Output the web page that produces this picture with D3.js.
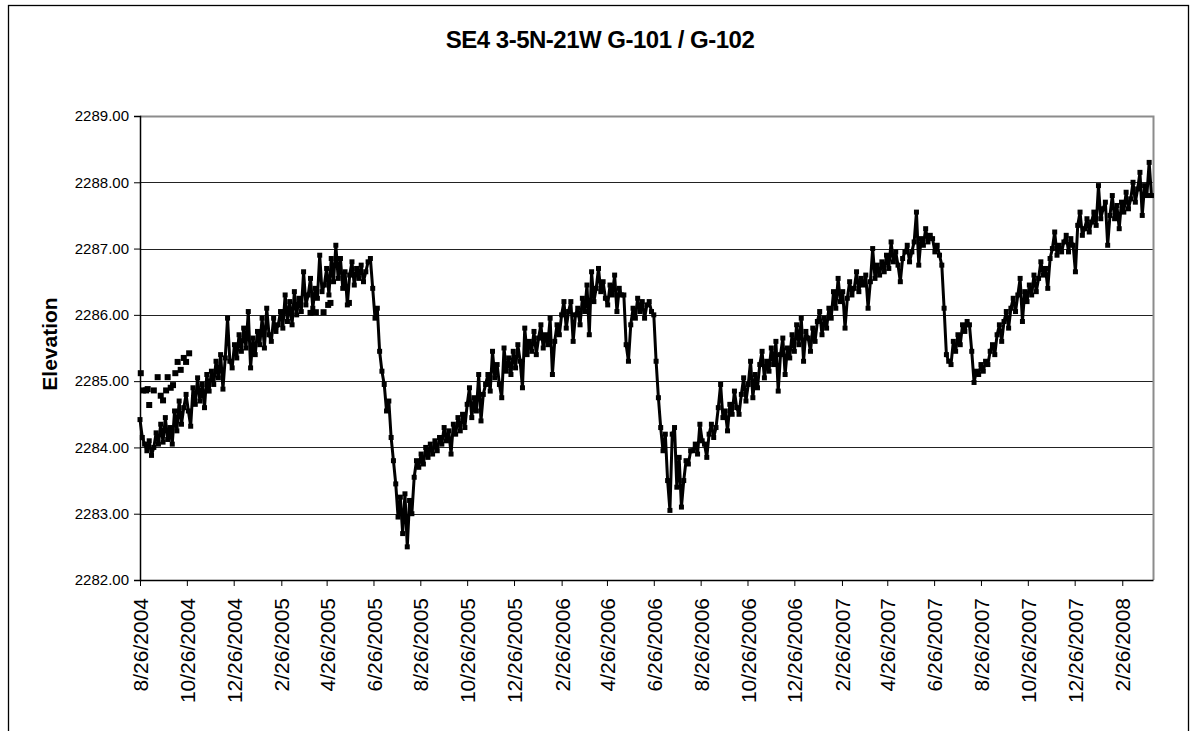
<!DOCTYPE html>
<html><head><meta charset="utf-8">
<script src="https://cdn.jsdelivr.net/npm/d3@7"></script>
<style>body{margin:0;background:#fff} text{font-family:"Liberation Sans",Arial,Helvetica,sans-serif}</style>
</head><body><svg id="c" width="1195" height="731"></svg>
<script>
const chartTitle = "SE4 3-5N-21W G-101 / G-102";
const yTitle = "Elevation";
const startDate = "2004-08-26";
const stepDays = 3;
const endDate = "2008-04-06";
const g101 = [
2284.42,2284.15,2284.05,2283.95,2284.10,2283.88,2284.00,2284.22,2284.05,2284.35,
2284.08,2284.45,2284.12,2284.30,2284.05,2284.55,2284.25,2284.70,2284.35,2284.60,
2284.80,2284.55,2284.32,2284.90,2284.65,2285.05,2284.70,2284.95,2284.60,2285.10,
2284.85,2285.15,2284.95,2285.30,2285.05,2285.40,2284.88,2285.35,2285.95,2285.30,
2285.20,2285.55,2285.35,2285.70,2285.45,2285.80,2285.50,2286.05,2285.20,2285.65,
2285.40,2285.75,2285.55,2285.95,2285.50,2286.10,2285.70,2285.60,2285.95,2285.75,
2285.85,2286.05,2285.80,2286.30,2285.90,2286.20,2285.85,2286.35,2286.00,2286.25,
2286.05,2286.65,2286.15,2286.30,2286.55,2286.10,2286.40,2286.25,2286.90,2286.35,
2286.45,2286.70,2286.30,2286.85,2286.50,2287.05,2286.55,2286.85,2286.40,2286.65,
2286.15,2286.60,2286.80,2286.45,2286.70,2286.55,2286.75,2286.50,2286.65,2286.80,
2286.85,2286.40,2285.95,2286.10,2285.45,2285.15,2284.95,2284.55,2284.70,2284.15,
2283.80,2283.45,2282.95,2283.25,2282.70,2283.30,2282.50,2283.20,2283.00,2283.55,
2283.80,2283.70,2283.90,2283.75,2284.00,2283.85,2284.05,2283.90,2284.10,2283.95,
2284.15,2284.05,2284.30,2284.10,2284.25,2283.90,2284.35,2284.20,2284.45,2284.25,
2284.50,2284.30,2284.65,2284.90,2284.45,2284.75,2284.55,2285.10,2284.40,2284.80,
2284.95,2285.10,2284.85,2285.45,2285.05,2285.25,2284.95,2284.75,2285.50,2285.15,
2285.35,2285.10,2285.45,2285.20,2285.55,2285.30,2284.90,2285.80,2285.40,2285.60,
2285.45,2285.75,2285.40,2285.65,2285.85,2285.50,2285.70,2285.55,2285.95,2285.10,
2285.60,2285.85,2285.70,2286.00,2286.20,2285.80,2286.05,2286.20,2285.60,2286.00,
2286.10,2285.85,2286.25,2286.05,2286.45,2285.70,2286.65,2286.20,2286.40,2286.70,
2286.35,2286.50,2286.25,2286.15,2286.45,2286.30,2286.60,2286.05,2286.40,2286.30,
2286.30,2285.55,2285.30,2285.85,2286.10,2285.95,2286.25,2286.05,2286.20,2285.95,
2286.15,2286.20,2286.05,2286.00,2285.30,2284.75,2284.30,2283.95,2284.20,2283.50,
2283.05,2284.20,2284.30,2283.40,2283.85,2283.10,2283.50,2283.80,2283.75,2283.95,
2283.95,2284.05,2283.90,2284.35,2284.10,2284.05,2283.85,2284.20,2284.35,2284.15,
2284.30,2284.60,2284.95,2284.45,2284.55,2284.25,2284.65,2284.50,2284.85,2284.60,
2284.50,2284.80,2285.05,2284.70,2284.95,2285.30,2284.75,2285.10,2284.90,2285.25,
2285.45,2285.05,2285.30,2285.15,2285.50,2285.25,2285.60,2284.85,2285.40,2285.65,
2285.10,2285.50,2285.35,2285.70,2285.45,2285.85,2285.55,2285.95,2285.30,2285.75,
2285.65,2285.45,2285.80,2285.60,2285.90,2286.05,2285.70,2285.95,2285.80,2286.10,
2285.95,2286.35,2286.10,2286.55,2286.20,2286.35,2285.80,2286.25,2286.50,2286.30,
2286.40,2286.65,2286.35,2286.55,2286.45,2286.60,2286.10,2286.50,2287.00,2286.55,
2286.75,2286.60,2286.80,2286.65,2286.90,2286.70,2287.10,2286.80,2286.95,2286.75,
2286.50,2286.85,2286.95,2287.05,2286.80,2286.95,2287.10,2287.55,2286.75,2287.15,
2287.05,2287.30,2287.10,2287.20,2287.15,2286.95,2287.05,2286.90,2286.75,2286.10,
2285.40,2285.30,2285.25,2285.60,2285.45,2285.70,2285.55,2285.85,2285.75,2285.90,
2285.85,2285.45,2284.98,2285.15,2285.10,2285.25,2285.15,2285.30,2285.25,2285.45,
2285.55,2285.40,2285.70,2285.85,2285.60,2285.90,2286.05,2285.80,2286.10,2286.25,
2286.05,2286.30,2286.55,2285.90,2286.35,2286.20,2286.45,2286.30,2286.60,2286.35,
2286.55,2286.80,2286.60,2286.70,2286.40,2286.85,2287.00,2287.25,2286.90,2287.05,
2286.95,2287.10,2287.20,2286.95,2287.15,2287.05,2286.65,2287.35,2287.55,2287.20,
2287.30,2287.45,2287.25,2287.40,2287.55,2287.35,2287.95,2287.45,2287.60,2287.70,
2287.05,2287.50,2287.80,2287.45,2287.65,2287.30,2287.70,2287.55,2287.85,2287.60,
2287.75,2288.00,2287.70,2287.90,2288.15,2287.50,2287.95,2287.80,2288.30,2287.80
];
const g102Dates = ["2004-08-27","2004-08-30","2004-09-03","2004-09-05","2004-09-07","2004-09-13","2004-09-18","2004-09-22","2004-09-25","2004-09-29","2004-10-01","2004-10-05","2004-10-08","2004-10-11","2004-10-14","2004-10-18","2004-10-22","2004-10-25","2004-10-29","2005-04-05","2005-04-12","2005-04-22","2005-04-28","2005-05-01","2005-05-25"];
const g102 = [2285.12,2284.86,2284.86,2284.88,2284.64,2284.86,2285.06,2284.78,2284.71,2284.86,2285.06,2284.90,2284.94,2285.12,2285.29,2285.17,2285.35,2285.29,2285.42,2286.03,2286.04,2286.04,2286.15,2286.18,2286.18];
const yTicks = [2282,2283,2284,2285,2286,2287,2288,2289];
const xTickLabels = ["8/26/2004","10/26/2004","12/26/2004","2/26/2005","4/26/2005","6/26/2005","8/26/2005","10/26/2005","12/26/2005","2/26/2006","4/26/2006","6/26/2006","8/26/2006","10/26/2006","12/26/2006","2/26/2007","4/26/2007","6/26/2007","8/26/2007","10/26/2007","12/26/2007","2/26/2008"];

const svg = d3.select("#c");
const P = {l:140, r:1153, t:116, b:580};
const parseISO = d3.timeParse("%Y-%m-%d");
const parseUS = d3.timeParse("%m/%d/%Y");
const t0 = parseISO(startDate);
const x = d3.scaleTime().domain([t0, parseISO(endDate)]).range([P.l, P.r]);
const y = d3.scaleLinear().domain([2282, 2289]).range([P.b, P.t]);

// outer frame
svg.append("rect").attr("x",8.5).attr("y",5.5).attr("width",1180).attr("height",760)
  .attr("fill","none").attr("stroke","#000").attr("stroke-width",1.3);

// title
svg.append("text").attr("x",600).attr("y",48).attr("text-anchor","middle")
  .attr("font-size",24).attr("font-weight","bold").attr("letter-spacing",-0.5).text(chartTitle);

// gridlines
svg.append("g").selectAll("line").data(yTicks.filter(v=>v>2282 && v<2289)).join("line")
  .attr("x1",P.l).attr("x2",P.r).attr("y1",d=>Math.round(y(d))+0.5).attr("y2",d=>Math.round(y(d))+0.5)
  .attr("stroke","#222").attr("stroke-width",1);

// plot border (top/right gray)
svg.append("path").attr("d",`M${P.l},${P.t+0.5}H${P.r+0.5}V${P.b}`).attr("fill","none")
  .attr("stroke","#8c8c8c").attr("stroke-width",2);

// y axis
const yAxis = d3.axisLeft(y).tickValues(yTicks).tickFormat(d3.format(".2f")).tickSize(6).tickPadding(5);
const gy = svg.append("g").attr("transform",`translate(${P.l},0)`).call(yAxis);
gy.select(".domain").attr("stroke","#000").attr("stroke-width",1.5);
gy.selectAll(".tick line").attr("stroke","#000");
gy.selectAll("text").attr("font-size",15).attr("fill","#000").style("font-family","'Liberation Sans',Arial,sans-serif");

// x axis
const xTickDates = xTickLabels.map(parseUS);
const xAxis = d3.axisBottom(x).tickValues(xTickDates).tickFormat((d,i)=>xTickLabels[i]).tickSize(6).tickSizeOuter(0);
const gx = svg.append("g").attr("transform",`translate(0,${P.b})`).call(xAxis);
gx.select(".domain").attr("stroke","#000").attr("stroke-width",1.5);
gx.selectAll(".tick line").attr("stroke","#000");
gx.selectAll("text").attr("font-size",21).attr("fill","#000")
  .attr("text-anchor","end").attr("transform","rotate(-90)")
  .attr("x",-18).attr("y",0).attr("dy","0.36em")
  .style("font-family","'Liberation Sans',Arial,sans-serif");

// y title
svg.append("text").attr("transform","translate(57,344) rotate(-90)").attr("text-anchor","middle")
  .attr("font-size",21).attr("font-weight","bold").text(yTitle);

// main series
const mainData = g101.map((v,i)=>({d:d3.timeDay.offset(t0, i*stepDays), v}));
const line = d3.line().x(d=>x(d.d)).y(d=>y(d.v));
svg.append("path").datum(mainData).attr("d",line).attr("fill","none")
  .attr("stroke","#000").attr("stroke-width",3).attr("stroke-linejoin","round");
svg.append("g").selectAll("rect").data(mainData).join("rect")
  .attr("x",d=>x(d.d)-2.5).attr("y",d=>y(d.v)-2.5).attr("width",5).attr("height",5).attr("fill","#000");

// second series markers
const secData = g102.map((v,i)=>({d:parseISO(g102Dates[i]), v}));
svg.append("g").selectAll("rect").data(secData).join("rect")
  .attr("x",d=>x(d.d)-3).attr("y",d=>y(d.v)-3).attr("width",6).attr("height",6).attr("fill","#000");
</script></body></html>
